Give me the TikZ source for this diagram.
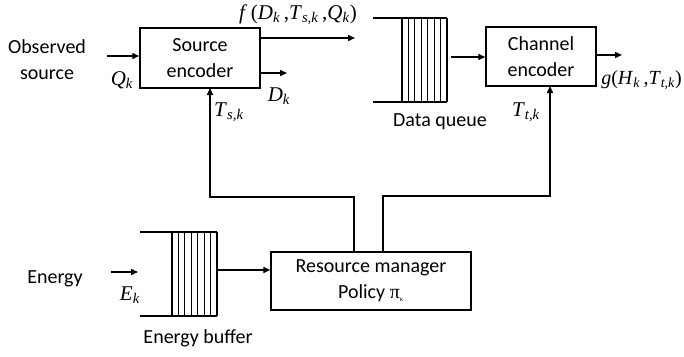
\documentclass[tikz,border=0pt]{standalone}
\usepackage{fontspec}
\setmainfont{Carlito}
\newfontfamily\tms{Liberation Serif}
\newcommand{\vv}[2]{\textit{#1}\textsubscript{\textit{#2}}}
\usetikzlibrary{arrows.meta}
\begin{document}
\begin{tikzpicture}[x=1pt,y=-1pt,
  every node/.style={font=\fontsize{20}{26}\selectfont},
  blk/.style={draw,line width=1.5pt,inner sep=0pt},
  wire/.style={line width=1.5pt},
  arr/.style={wire,-{Triangle[length=7pt,width=6pt]}},
  lbl/.style={inner sep=0pt,font=\tms\fontsize{21}{24}\selectfont},
  hatch/.style={line width=0.9pt},
  thickbar/.style={line width=2.6pt}]
\useasboundingbox (0,0) rectangle (684,356);
% blocks
\node[blk,minimum width=120pt,minimum height=60pt,align=center] (se) at (200,58) {Source\\encoder};
\node[blk,minimum width=110pt,minimum height=59pt,align=center] (ce) at (541,56.5) {Channel\\encoder};
\node[blk,minimum width=200pt,minimum height=58pt,align=center] (rm) at (371,281) {Resource manager\\Policy {\tms π\textsubscript{\scriptsize κ}}};
% texts
\node[align=center] (obs) at (47,60) {Observed\\source};
\node (energy) at (55,279) {Energy};
\node (dq) at (440,122) {Data queue};
\node (eb) at (198,338) {Energy buffer};
% data queue
\coordinate (dqtl) at (373,18);
\coordinate (dqbl) at (373,102);
\coordinate (dqtr) at (447,18);
\coordinate (dqbr) at (447,102);
\draw[wire] (dqtl) -- (dqtr);
\draw[wire] (dqbl) -- (dqbr);
\draw[thickbar] (402,18) -- (402,102);
\foreach \i in {1,...,7} \draw[hatch] ({402+\i*45/7},18) -- ({402+\i*45/7},102);
\draw[wire] (dqtr) -- (dqbr);
% energy buffer
\coordinate (ebtl) at (140,232);
\coordinate (ebbl) at (140,316);
\coordinate (ebtr) at (217,232);
\coordinate (ebbr) at (217,316);
\draw[wire] (ebtl) -- (ebtr);
\draw[wire] (ebbl) -- (ebbr);
\draw[thickbar] (172,232) -- (172,316);
\foreach \i in {1,...,7} \draw[hatch] ({172+\i*45/7},232) -- ({172+\i*45/7},316);
\draw[wire] (ebtr) -- (ebbr);
% connectors
\coordinate (qin) at (107,56);
\draw[arr] (qin) -- (qin -| se.west);
\node[lbl] (qk) at (122,80) {\vv{Q}{k}};
\coordinate (fout) at (355,38);
\draw[arr] (fout -| se.east) -- (fout);
\node[lbl] (fl) at (298,15) {\textit{f}\,(\vv{D}{k}\,,\vv{T}{s,k}\,,\vv{Q}{k})};
\coordinate (dout) at (287,73);
\draw[arr] (dout -| se.east) -- (dout);
\node[lbl] (dk) at (279,96) {\vv{D}{k}};
\coordinate (qout) at (451,57);
\draw[arr] (qout) -- (qout -| ce.west);
\coordinate (gout) at (622,55);
\draw[arr] (gout -| ce.east) -- (gout);
\node[lbl,anchor=east,font=\tms\fontsize{20}{24}\selectfont] (gl) at (682,80) {\textit{g}(\vv{H}{k}\,,\vv{T}{t,k})};
\coordinate (ein) at (111,272);
\draw[arr] (ein) -- (138,272);
\node[lbl] (ek) at (130,295) {\vv{E}{k}};
\coordinate (ebout) at (217,270);
\draw[arr] (ebout) -- (ebout -| rm.west);
\coordinate (j1) at (354,197);
\coordinate (j2) at (383,196);
\draw[arr] (j1 |- rm.north) -- (j1) -- (210,197) -- (210,88);
\draw[arr] (j2 |- rm.north) -- (j2) -- (550,196) -- (550,86);
\node[lbl] (ts) at (229,112) {\vv{T}{s,k}};
\node[lbl] (tt) at (526,112) {\vv{T}{t,k}};
\end{tikzpicture}
\end{document}
